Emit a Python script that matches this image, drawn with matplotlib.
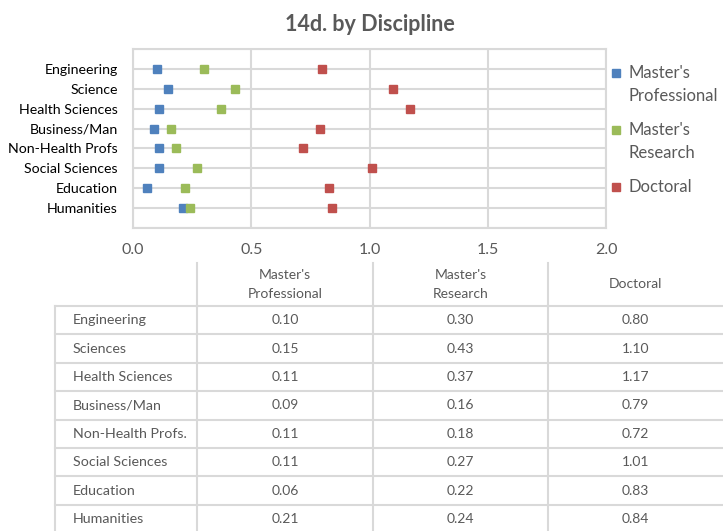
import matplotlib.pyplot as plt
import numpy as np

plt.rcParams['font.family'] = ['Lato', 'DejaVu Sans']

# data
chart_labels = ['Engineering', 'Science', 'Health Sciences', 'Business/Man',
                'Non-Health Profs', 'Social Sciences', 'Education', 'Humanities']
table_labels = ['Engineering', 'Sciences', 'Health Sciences', 'Business/Man',
                'Non-Health Profs.', 'Social Sciences', 'Education', 'Humanities']
series_names = ["Master's\nProfessional", "Master's\nResearch", 'Doctoral']
masters_prof = [0.10, 0.15, 0.11, 0.09, 0.11, 0.11, 0.06, 0.21]
masters_res = [0.30, 0.43, 0.37, 0.16, 0.18, 0.27, 0.22, 0.24]
doctoral = [0.80, 1.10, 1.17, 0.79, 0.72, 1.01, 0.83, 0.84]
x_ticks = [0.0, 0.5, 1.0, 1.5, 2.0]

colors = ['#4F81BD', '#9BBB59', '#C0504D']
grey = '#595959'
grid_c = '#D9D9D9'

W, H = 723, 531
fig = plt.figure(figsize=(W / 100, H / 100), dpi=100)

# ---- dot chart
ax = fig.add_axes([133 / W, 1 - 228 / H, (606 - 133) / W, (228 - 49) / H])
n = len(chart_labels)
ypos = np.arange(n, 0, -1)
all_series = [masters_prof, masters_res, doctoral]
for vals, c in zip(all_series, colors):
    ax.plot(vals, ypos, 's', color=c, markersize=5.8, linestyle='none', zorder=3)

ax.set_xlim(0, 2.0)
ax.set_ylim(0, n + 1)
ax.set_xticks(x_ticks)
ax.set_xticklabels(['%.1f' % t for t in x_ticks])
ax.set_yticks(np.arange(0, n + 2))
ax.set_yticklabels([''] + chart_labels[::-1] + [''])
ax.grid(True, color=grid_c, linewidth=1.5)
ax.set_axisbelow(True)
for s in ax.spines.values():
    s.set_color(grid_c)
    s.set_linewidth(1.5)
ax.tick_params(axis='both', length=0)
ax.tick_params(axis='y', labelsize=10.2, pad=11, labelcolor='black')
ax.tick_params(axis='x', labelsize=11.5, pad=11, labelcolor=grey)

ax.set_title('14d. by Discipline', fontsize=15.5, fontweight='bold', color=grey, pad=13)

# ---- overlay in pixel coords for legend and table
tb = fig.add_axes([0, 0, 1, 1])
tb.set_xlim(0, W)
tb.set_ylim(H, 0)
tb.axis('off')

# legend: marker sits on the first line of each entry
line_step = 23
y0 = 73
for name, c in zip(series_names, colors):
    tb.plot([616], [y0], 's', color=c, markersize=5.5)
    lines = name.split('\n')
    for k, ln in enumerate(lines):
        tb.text(629, y0 + k * line_step, ln, ha='left', va='center', fontsize=12, color=grey)
    y0 += len(lines) * line_step + 11

# table
col_edges = [55, 197, 373, 548, 723]
head_top, head_bot = 263, 306
row_h = 28.4
for x in col_edges[1:4]:
    tb.plot([x, x], [head_top, head_bot], color=grid_c, lw=1.5)
for i, name in enumerate(series_names):
    xc = (col_edges[i + 1] + col_edges[i + 2]) / 2
    tb.text(xc, (head_top + head_bot) / 2, name, ha='center', va='center',
            fontsize=10, color=grey, linespacing=1.65)

n_rows = len(table_labels)
bottom = head_bot + row_h * n_rows
for r in range(n_rows + 1):
    y = head_bot + r * row_h
    tb.plot([col_edges[0], col_edges[-1]], [y, y], color=grid_c, lw=1.5)
for x in col_edges[:4]:
    tb.plot([x, x], [head_bot, bottom], color=grid_c, lw=1.5)

for r, lab in enumerate(table_labels):
    yc = head_bot + (r + 0.5) * row_h
    tb.text(73, yc, lab, ha='left', va='center', fontsize=10.3, color=grey)
    for i, vals in enumerate(all_series):
        xc = (col_edges[i + 1] + col_edges[i + 2]) / 2
        tb.text(xc, yc, '%.2f' % vals[r], ha='center', va='center', fontsize=10, color=grey)

fig.savefig('out.png', dpi=100)
